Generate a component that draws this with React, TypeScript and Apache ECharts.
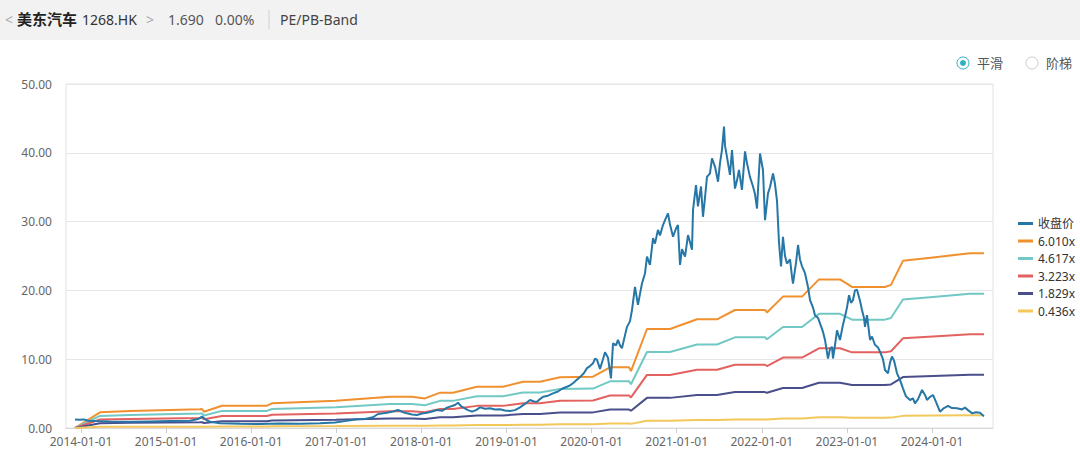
import React, { useEffect, useRef } from "react";
import * as echarts from "echarts";

// ---- Data ----
// x values are decimal years (2014.0 = 2014-01-01)
const tickYears = [2014, 2015, 2016, 2017, 2018, 2019, 2020, 2021, 2022, 2023, 2024];
const tickLabels = ["2014-01-01", "2015-01-01", "2016-01-01", "2017-01-01", "2018-01-01", "2019-01-01", "2020-01-01", "2021-01-01", "2022-01-01", "2023-01-01", "2024-01-01"];
const yTicks = [0, 10, 20, 30, 40, 50];

const priceYears = [
  2013.930, 2013.988, 2014.035, 2014.082, 2014.165, 2014.341, 2014.576, 2014.811, 2015.046, 2015.281,
  2015.375, 2015.422, 2015.469, 2015.516, 2015.633, 2015.868, 2016.103, 2016.338, 2016.573, 2016.808,
  2016.985, 2017.102, 2017.243, 2017.337, 2017.431, 2017.490, 2017.596, 2017.666, 2017.725, 2017.784,
  2017.831, 2017.890, 2017.948, 2018.007, 2018.066, 2018.125, 2018.183, 2018.242, 2018.301, 2018.360,
  2018.395, 2018.430, 2018.465, 2018.489, 2018.548, 2018.595, 2018.642, 2018.689, 2018.747, 2018.806,
  2018.865, 2018.924, 2018.982, 2019.041, 2019.100, 2019.159, 2019.217, 2019.276, 2019.323, 2019.359,
  2019.394, 2019.429, 2019.488, 2019.546, 2019.605, 2019.652, 2019.711, 2019.746, 2019.781, 2019.817,
  2019.864, 2019.911, 2019.946, 2019.981, 2020.017, 2020.040, 2020.064, 2020.099, 2020.134, 2020.158,
  2020.193, 2020.228, 2020.252, 2020.287, 2020.310, 2020.334, 2020.357, 2020.393, 2020.416, 2020.451,
  2020.475, 2020.510, 2020.545, 2020.569, 2020.592, 2020.628, 2020.651, 2020.686, 2020.722, 2020.745,
  2020.780, 2020.804, 2020.839, 2020.863, 2020.898, 2020.921, 2020.957, 2020.992, 2021.015, 2021.039,
  2021.063, 2021.098, 2021.133, 2021.157, 2021.180, 2021.192, 2021.227, 2021.250, 2021.286, 2021.309,
  2021.333, 2021.356, 2021.391, 2021.415, 2021.450, 2021.486, 2021.509, 2021.532, 2021.556, 2021.568,
  2021.591, 2021.626, 2021.650, 2021.685, 2021.709, 2021.732, 2021.767, 2021.803, 2021.826, 2021.861,
  2021.897, 2021.920, 2021.944, 2021.979, 2022.014, 2022.038, 2022.073, 2022.096, 2022.132, 2022.155,
  2022.179, 2022.202, 2022.226, 2022.249, 2022.273, 2022.296, 2022.332, 2022.355, 2022.367, 2022.402,
  2022.426, 2022.449, 2022.473, 2022.508, 2022.543, 2022.567, 2022.602, 2022.625, 2022.661, 2022.684,
  2022.719, 2022.743, 2022.778, 2022.802, 2022.825, 2022.837, 2022.860, 2022.884, 2022.919, 2022.954,
  2022.978, 2023.001, 2023.025, 2023.048, 2023.072, 2023.095, 2023.119, 2023.154, 2023.178, 2023.201,
  2023.213, 2023.236, 2023.272, 2023.295, 2023.330, 2023.366, 2023.389, 2023.424, 2023.448, 2023.483,
  2023.507, 2023.530, 2023.554, 2023.589, 2023.624, 2023.659, 2023.694, 2023.742, 2023.777, 2023.800,
  2023.836, 2023.883, 2023.918, 2023.941, 2023.976, 2024.012, 2024.047, 2024.094, 2024.141, 2024.188,
  2024.235, 2024.294, 2024.353, 2024.388, 2024.423, 2024.470, 2024.517, 2024.564, 2024.611,
];
const priceClose = [
  1.25, 1.2, 1.25, 1.05, 1.0, 0.95, 0.9, 0.95, 1.0, 1.05,
  1.3, 1.65, 1.2, 0.9, 0.7, 0.62, 0.58, 0.66, 0.6, 0.7,
  0.8, 1.0, 1.26, 1.3, 1.56, 2.03, 2.23, 2.4, 2.62, 2.3,
  2.13, 1.95, 1.89, 2.1, 2.23, 2.4, 2.62, 2.5, 2.96, 3.2,
  3.34, 3.68, 3.2, 3.0, 2.6, 2.37, 2.6, 3.0, 2.8, 2.86,
  2.7, 2.72, 2.55, 2.47, 2.6, 3.0, 3.5, 4.07, 3.85, 3.82,
  4.2, 4.55, 4.7, 5.04, 5.3, 5.7, 6.0, 6.2, 6.5, 6.9,
  7.4, 8.0, 8.7, 9.0, 9.4, 10.1, 9.9, 8.6, 10.0, 11.0,
  10.2, 7.2, 12.3, 12.0, 12.8, 12.0, 11.6, 13.5, 14.7, 15.5,
  17.15, 20.5, 17.9, 19.5, 21.0, 22.5, 24.9, 23.7, 27.6, 26.8,
  28.8, 28.0, 29.5, 30.2, 31.2, 29.6, 27.8, 29.0, 29.5, 23.7,
  26.0, 24.9, 28.05, 27.0, 25.9, 31.7, 35.3, 32.2, 35.1, 30.7,
  33.5, 36.5, 37.0, 39.2, 38.0, 35.8, 38.5, 40.4, 43.8, 41.0,
  39.4, 36.8, 40.4, 34.8, 36.0, 37.5, 34.6, 40.2, 38.5, 36.5,
  35.1, 34.0, 31.9, 39.9, 37.5, 30.2, 34.1, 35.0, 37.0, 35.5,
  33.0, 27.0, 23.5, 27.8, 25.0, 23.9, 24.5, 22.0, 21.0, 24.0,
  26.6, 24.5, 23.5, 22.5, 20.5, 18.6, 17.5, 16.4, 16.0, 15.2,
  14.0, 12.8, 10.1, 11.5, 11.8, 10.1, 12.0, 14.2, 12.8, 15.0,
  16.2, 17.5, 19.3, 18.2, 18.6, 20.0, 20.1, 18.5, 17.15, 16.0,
  14.7, 16.4, 12.8, 13.3, 12.1, 11.7, 11.1, 10.0, 8.43, 7.95,
  9.5, 10.4, 9.8, 7.95, 7.0, 5.77, 4.6, 4.07, 4.3, 3.59,
  4.2, 5.52, 4.8, 4.07, 4.5, 4.8, 3.8, 2.37, 2.9, 3.2,
  2.9, 2.86, 2.7, 2.96, 2.6, 2.13, 2.3, 2.23, 1.69,
];

// Book value per share (the bands are multiple x BVPS)
const bookYears = [
  2013.930, 2014.223, 2014.576, 2015.398, 2015.422, 2015.445, 2015.657, 2016.186, 2016.244, 2016.997,
  2017.631, 2017.890, 2018.042, 2018.219, 2018.371, 2018.653, 2018.959, 2019.194, 2019.394, 2019.629,
  2020.017, 2020.216, 2020.440, 2020.463, 2020.651, 2020.921, 2021.239, 2021.474, 2021.685, 2022.038,
  2022.061, 2022.249, 2022.473, 2022.672, 2022.919, 2023.060, 2023.448, 2023.518, 2023.659, 2024.012,
  2024.447, 2024.611,
];
const bookValue = [
  0, 0.38, 0.41, 0.453, 0.459, 0.394, 0.539, 0.539, 0.597, 0.657,
  0.757, 0.757, 0.715, 0.854, 0.854, 0.998, 0.998, 1.12, 1.12, 1.226,
  1.241, 1.468, 1.468, 1.378, 2.394, 2.394, 2.629, 2.629, 2.854, 2.854,
  2.795, 3.178, 3.178, 3.594, 3.594, 3.411, 3.411, 3.461, 4.043, 4.126,
  4.226, 4.226,
];
const bandMultiples = [6.010, 4.617, 3.223, 1.829, 0.436];
const bandNames = ["6.010x", "4.617x", "3.223x", "1.829x", "0.436x"];
const priceName = "收盘价";

const bandColors = ["#f0902f", "#72c8c4", "#e3615f", "#4a4e8b", "#f2c85b"];
const priceColor = "#2777a6";
const FONT = "'Noto Sans', 'Noto Sans CJK SC', sans-serif";

export default function App() {
  const ref = useRef<HTMLDivElement>(null);
  useEffect(() => {
    document.body.style.margin = "0";
    const chart = echarts.init(ref.current!, null, { renderer: "svg" });
    const bandSeries = bandMultiples.map((m, k) => ({
      name: bandNames[k],
      type: "line",
      showSymbol: false,
      symbol: "none",
      z: 2,
      lineStyle: { width: 2, color: bandColors[k] },
      itemStyle: { color: bandColors[k] },
      data: bookYears.map((t, i) => [t, +(bookValue[i] * m).toFixed(3)]),
    }));
    const option: any = {
      animation: false,
      textStyle: { fontFamily: FONT },
      grid: {
        left: 66, right: 87, top: 84, bottom: 22,
        show: true, borderColor: "#e2e2e2", borderWidth: 1,
        outerBoundsMode: "none",
      },
      legend: {
        orient: "vertical",
        left: 1013,
        top: 212,
        icon: "rect",
        itemWidth: 15,
        itemHeight: 3,
        itemGap: 4.5,
        data: [priceName, ...bandNames],
        textStyle: { color: "#333", fontSize: 12, lineHeight: 13, fontFamily: FONT },
      },
      xAxis: {
        type: "value",
        min: 2013.824,
        max: 2024.717,
        axisLine: { show: true, lineStyle: { color: "#d8d8d8" } },
        axisTick: { show: true, customValues: tickYears, length: 5, lineStyle: { color: "#cccccc" } },
        axisLabel: {
          customValues: tickYears,
          formatter: (v: number) => tickLabels[tickYears.indexOf(Math.round(v))] ?? "",
          color: "#666",
          fontSize: 12,
          margin: 7,
        },
        splitLine: { show: false },
      },
      yAxis: {
        type: "value",
        min: yTicks[0],
        max: yTicks[yTicks.length - 1],
        interval: 10,
        axisLine: { show: false },
        axisTick: { show: false },
        axisLabel: { formatter: (v: number) => v.toFixed(2), color: "#666", fontSize: 12, margin: 14 },
        splitLine: { lineStyle: { color: "#e6e6e6" } },
      },
      graphic: [
        { type: "rect", left: 0, top: 0, shape: { width: 1080, height: 40 }, style: { fill: "#f2f2f2" }, z: -1 },
        { type: "text", x: 5, y: 19, style: { text: "<", fill: "#aaa", fontSize: 14, fontFamily: FONT, verticalAlign: "middle" } },
        { type: "text", x: 17, y: 19, style: { text: "美东汽车", fill: "#222", fontSize: 15, fontWeight: "bold", fontFamily: FONT, verticalAlign: "middle" } },
        { type: "text", x: 82, y: 19, style: { text: "1268.HK", fill: "#333", fontSize: 14, fontFamily: FONT, verticalAlign: "middle" } },
        { type: "text", x: 146, y: 19, style: { text: ">", fill: "#aaa", fontSize: 14, fontFamily: FONT, verticalAlign: "middle" } },
        { type: "text", x: 168, y: 19, style: { text: "1.690", fill: "#555", fontSize: 14, fontFamily: FONT, verticalAlign: "middle" } },
        { type: "text", x: 215, y: 19, style: { text: "0.00%", fill: "#555", fontSize: 14, fontFamily: FONT, verticalAlign: "middle" } },
        { type: "line", shape: { x1: 269, y1: 10, x2: 269, y2: 29 }, style: { stroke: "#d0d0d0", lineWidth: 1 } },
        { type: "text", x: 280, y: 19, style: { text: "PE/PB-Band", fill: "#444", fontSize: 14, fontFamily: FONT, verticalAlign: "middle" } },
        { type: "circle", shape: { cx: 963, cy: 63, r: 6 }, style: { fill: "#fff", stroke: "#2fb0c2", lineWidth: 1 } },
        { type: "circle", shape: { cx: 963, cy: 63, r: 3 }, style: { fill: "#2fb0c2" } },
        { type: "text", x: 977, y: 63, style: { text: "平滑", fill: "#555", fontSize: 13, fontFamily: FONT, verticalAlign: "middle" } },
        { type: "circle", shape: { cx: 1032, cy: 63, r: 6 }, style: { fill: "#fff", stroke: "#cccccc", lineWidth: 1 } },
        { type: "text", x: 1046, y: 63, style: { text: "阶梯", fill: "#555", fontSize: 13, fontFamily: FONT, verticalAlign: "middle" } },
      ],
      series: [
        ...bandSeries,
        {
          name: priceName,
          type: "line",
          showSymbol: false,
          symbol: "none",
          z: 3,
          lineStyle: { width: 2, color: priceColor },
          itemStyle: { color: priceColor },
          data: priceYears.map((t, i) => [t, priceClose[i]]),
        },
      ],
    };
    chart.setOption(option);
    return () => chart.dispose();
  }, []);
  return <div ref={ref} style={{ width: 1080, height: 450 }} />;
}
